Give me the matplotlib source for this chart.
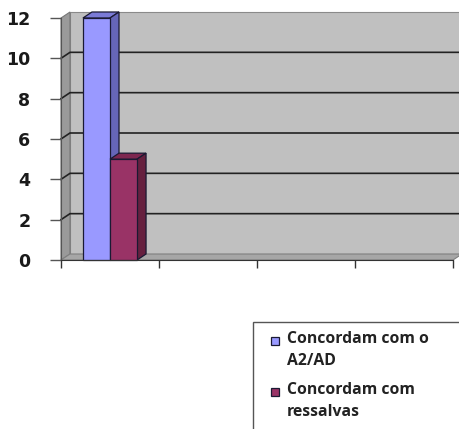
import matplotlib.pyplot as plt
from matplotlib.patches import Polygon, Rectangle

# survey answers, one category on a 4-slot axis
series = ["Concordam com o\nA2/AD", "Concordam com\nressalvas"]
values = [12, 5]
yticks = [0, 2, 4, 6, 8, 10, 12]
n_slots = 4

front = ["#9999FF", "#993366"]
side = ["#6666B8", "#66203F"]
top = ["#7A7AD6", "#7D2750"]

W, H = 460, 429
fig = plt.figure(figsize=(W / 100, H / 100), dpi=100)
ax = fig.add_axes([61 / W, 1 - 260 / H, 392 / W, 242 / H])
ax.set_xlim(0, n_slots)
ax.set_ylim(0, 12)

# depth offset of the pseudo-3d box (pixels -> data units)
dx = 9 / 392 * n_slots
dy = 6 / 242 * 12
ymax = yticks[-1]

# side wall, floor, back wall
ax.add_patch(Polygon([(0, 0), (dx, dy), (dx, ymax + dy), (0, ymax)],
                     closed=True, fc="#9A9A9A", ec="#777777", lw=0.8, clip_on=False, zorder=1))
ax.add_patch(Polygon([(0, 0), (n_slots, 0), (n_slots + dx, dy), (dx, dy)],
                     closed=True, fc="#A6A6A6", ec="#808080", lw=0.8, clip_on=False, zorder=1))
ax.add_patch(Polygon([(dx, dy), (n_slots + dx, dy), (n_slots + dx, ymax + dy), (dx, ymax + dy)],
                     closed=True, fc="#C0C0C0", ec="#8A8A8A", lw=0.8, clip_on=False, zorder=0.5))
for v in yticks[1:-1]:
    ax.plot([0, dx, n_slots + dx], [v, v + dy, v + dy], color="#222222", lw=1.2,
            clip_on=False, zorder=1.5)

# columns: front face from ax.bar, top and side faces from the same values
bw = 0.276
x0 = 0.224
for i, (val, f, s, t) in enumerate(zip(values, front, side, top)):
    left = x0 + i * bw
    right = left + bw
    ax.add_patch(Polygon([(left, val), (left + dx, val + dy), (right + dx, val + dy), (right, val)],
                         closed=True, fc=t, ec="#1a1a33", lw=0.9, clip_on=False, zorder=2 + i))
    ax.add_patch(Polygon([(right, 0), (right + dx, dy), (right + dx, val + dy), (right, val)],
                         closed=True, fc=s, ec="#1a1a33", lw=0.9, clip_on=False, zorder=2 + i))
    ax.bar(left, val, width=bw, align="edge", color=f, edgecolor="#1a1a33", lw=0.9,
           zorder=2.5 + i, clip_on=False)

for sp in ["top", "right"]:
    ax.spines[sp].set_visible(False)
ax.spines["left"].set_color("#555555")
ax.spines["bottom"].set_color("#333333")
ax.spines["left"].set_zorder(4)
ax.spines["bottom"].set_zorder(4)
ax.patch.set_visible(False)

ax.set_yticks(yticks)
ax.set_yticklabels([str(v) for v in yticks], fontsize=12.5, fontweight="bold", color="#1a1a1a")
ax.set_xticks(range(n_slots + 1))
ax.set_xticklabels([])
ax.tick_params(axis="y", length=8, width=1, color="#555555", pad=14)
ax.tick_params(axis="x", length=6, width=1, color="#333333")

# legend box, running off the right and bottom edges
fig.patches.append(Rectangle((253 / W, 1 - 440 / H), 220 / W, 118 / H,
                             transform=fig.transFigure, fc="white", ec="#555555", lw=1))
entry_y = [350, 401]
for lab, f, ey in zip(series, front, entry_y):
    fig.patches.append(Rectangle((271 / W, 1 - (ey - 5) / H), 8 / W, 8 / H,
                                 transform=fig.transFigure, fc=f, ec="#1a1a33", lw=0.9))
    fig.text(287 / W, 1 - ey / H, lab, ha="left", va="center", fontsize=11.3,
             family="Open Sans", fontweight="bold", color="#222222", linespacing=1.45)

fig.savefig("out.png", dpi=100)
